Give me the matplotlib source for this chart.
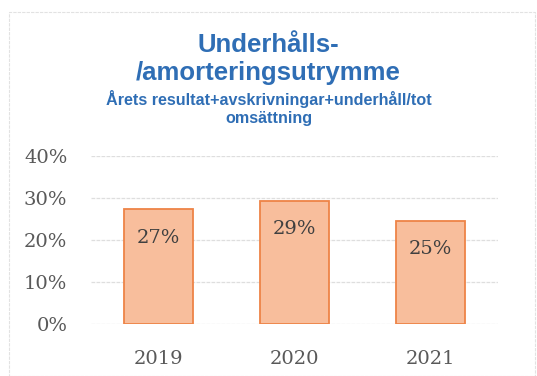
import matplotlib
matplotlib.use("Agg")
import matplotlib.pyplot as plt
from matplotlib.patches import Rectangle

years = ["2019", "2020", "2021"]
values = [27.3, 29.4, 24.6]
labels = ["27%", "29%", "25%"]
yticks = [0, 10, 20, 30, 40]
ytick_labels = ["0%", "10%", "20%", "30%", "40%"]
title = "Underhålls-\n/amorteringsutrymme"
subtitle = "Årets resultat+avskrivningar+underhåll/tot\nomsättning"

W, H = 537, 376
fig = plt.figure(figsize=(W / 100, H / 100), dpi=100)
fig.patch.set_facecolor("white")

# outer light border
fig.add_artist(Rectangle((9 / W, 0), (535 - 9) / W, (H - 12) / H,
                         transform=fig.transFigure, fill=False,
                         edgecolor="#E2E2E2", linewidth=0.8, linestyle=(0, (3, 1))))

ax = fig.add_axes([91 / W, 1 - 324 / H, (498 - 91) / W, (324 - 156) / H])
x = range(len(years))
bars = ax.bar(x, values, width=0.51, color="#F8BE9C", edgecolor="#EE8447",
              linewidth=1.3, zorder=3)
for xi, v, lab in zip(x, values, labels):
    ax.annotate(lab, (xi, v), xytext=(0, -20.5), textcoords="offset points",
                ha="center", va="center", fontsize=14, color="#404040",
                family="DejaVu Serif", zorder=4)

ax.set_xlim(-0.5, 2.5)
ax.set_ylim(0, 40)
ax.set_yticks(yticks)
ax.set_yticklabels(ytick_labels)
ax.set_xticks(list(x))
ax.set_xticklabels(years)
ax.grid(axis="y", color="#DEDEDE", linewidth=0.9, linestyle=(0, (3, 1)), zorder=0)
for s in ax.spines.values():
    s.set_visible(False)
ax.tick_params(length=0, labelsize=14, colors="#595959")
ax.tick_params(axis="y", pad=17)
ax.tick_params(axis="x", pad=19)
for t in ax.get_xticklabels() + ax.get_yticklabels():
    t.set_family("DejaVu Serif")

fig.text(0.5, 1 - 59 / H, title, ha="center", va="center", fontsize=18.5,
         fontweight="bold", color="#2F6EB5", family="Liberation Sans",
         linespacing=1.22)
fig.text(0.5, 1 - 108 / H, subtitle, ha="center", va="center", fontsize=11.6,
         fontweight="bold", color="#2F6EB5", family="Liberation Sans",
         linespacing=1.2)

fig.savefig("out.png", dpi=100, facecolor="white")
